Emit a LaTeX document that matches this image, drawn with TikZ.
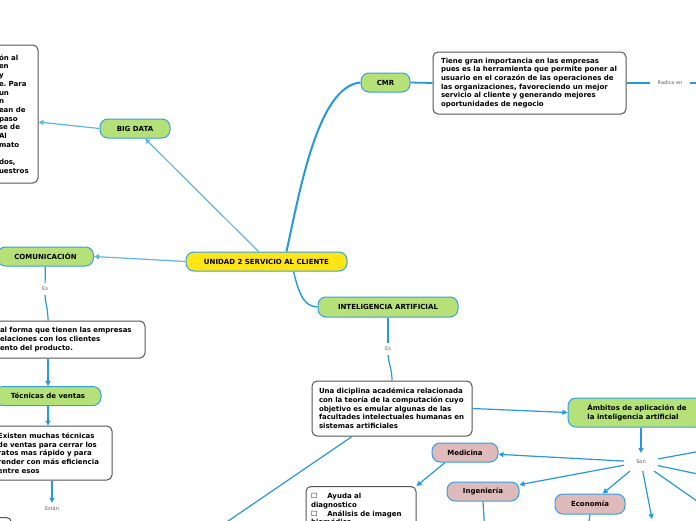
\documentclass[tikz,border=0pt]{standalone}
\usepackage{fontspec}
\setmainfont{DejaVu Sans}
\newfontfamily\symfont{DejaVu Sans}
\usepackage{tikz}
\usetikzlibrary{arrows.meta, positioning, calc}
\definecolor{linkblue}{RGB}{38,152,222}
\definecolor{lightlink}{RGB}{98,180,232}
\definecolor{topicline}{RGB}{52,160,226}
\definecolor{leafgreen}{RGB}{182,224,120}
\definecolor{rosepink}{RGB}{222,186,186}
\definecolor{rootyellow}{RGB}{255,228,24}
\definecolor{notegray}{RGB}{85,85,85}
\definecolor{labelgray}{RGB}{90,90,90}
\newcommand{\boxmark}{{\symfont\mdseries\char"2610}}
\frenchspacing

\begin{document}
\begin{tikzpicture}[x=1pt, y=-1pt,
    topic/.style={rectangle, rounded corners=8pt, draw=topicline, fill=#1, line width=1pt, minimum height=19pt, inner sep=2pt, font=\fontsize{7}{8.7}\selectfont\bfseries, align=center},
    note/.style={rectangle, rounded corners=5pt, draw=notegray, fill=white, line width=1pt, inner ysep=4pt, font=\fontsize{7}{8.7}\selectfont\bfseries, align=left},
    lbl/.style={font=\fontsize{5}{6}\selectfont, text=labelgray, inner xsep=5pt, inner ysep=4pt},
    link/.style={line width=1.2pt, draw=#1},
    link/.default=linkblue,
    arrow/.style={link=#1, -{Triangle[length=5pt, width=5pt]}},
    arrow/.default=linkblue,
]
    \useasboundingbox (0,0) rectangle (696,520);
    \clip (0,0) rectangle (696,520);

    % Central topic
    \node[topic=rootyellow, minimum width=161pt] (unidad) at (266.5,261.5) {UNIDAD 2 SERVICIO AL CLIENTE};

    % Main branches
    \node[topic=leafgreen, minimum width=70pt] (bigdata) at (135,128.5) {BIG DATA};
    \node[topic=leafgreen, minimum width=49pt] (cmr) at (385.5,82.5) {CMR};
    \node[topic=leafgreen, minimum width=96pt] (comunicacion) at (45.5,256.5) {COMUNICACIÓN};
    \node[topic=leafgreen, minimum width=140pt, minimum height=20pt] (inteligencia) at (388,307) {INTELIGENCIA ARTIFICIAL};

    % Big data and CMR notes
    \node[note, text width=34pt, inner xsep=5pt, minimum height=138pt] (bignote) at (16,114) {ón al\\en\\y\\e. Para\\un\\n\\ean de\\paso\\se de\\Al\\mato\\\mbox{}\\dos,\\uestros};
    \node[note, text width=177pt, inner xsep=8pt, minimum height=62pt] (cmrnote) at (529.5,83) {Tiene gran importancia en las empresas\\pues es la herramienta que permite poner al\\usuario en el corazón de las operaciones de\\las organizaciones, favoreciendo un mejor\\servicio al cliente y generando mejores\\oportunidades de negocio};
    \node[lbl, inner xsep=7pt] (radica) at (670,83) {Radica en};
    \coordinate (radicaend) at (720,83);

    % Comunicacion branch
    \node[lbl] (es1) at (45,289) {Es};
    \node[note, text width=136pt, inner xsep=9pt, minimum height=37pt] (comnote) at (68,339.5) {al forma que tienen las empresas\\elaciones con los clientes\\ento del producto.};
    \node[topic=leafgreen, minimum width=106pt] (tecnicas) at (48,396) {Técnicas de ventas};
    \node[note, text width=106pt, inner xsep=8pt, minimum height=54pt] (tecnote) at (51,453) {Existen muchas técnicas\\de ventas para cerrar los\\ratos mas rápido y para\\render con más eficiencia\\entre esos};
    \node[lbl] (estan) at (52,509) {Están};
    \node[note, minimum width=40pt, minimum height=30pt, anchor=north east] (estannote) at (12,517) {};

    % Inteligencia artificial branch
    \node[lbl] (es2) at (388,349) {Es};
    \node[note, text width=146pt, inner xsep=7pt, minimum height=55pt] (ianote) at (392,408.5) {Una diciplina académica relacionada\\con la teoría de la computación cuyo\\objetivo es emular algunas de las\\facultades intelectuales humanas en\\sistemas artificiales};
    \node[topic=leafgreen, minimum width=138pt, minimum height=29pt, align=left] (ambitos) at (637,412.5) {Ámbitos de aplicación de\\la inteligencia artificial};
    \node[lbl, inner xsep=12pt, inner ysep=7pt] (son) at (641,462) {Son};
    \node[topic=rosepink, minimum width=66pt] (medicina) at (465,452.5) {Medicina};
    \node[topic=rosepink, minimum width=72pt] (ingenieria) at (483,491.5) {Ingeniería};
    \node[topic=rosepink, minimum width=70pt, minimum height=20pt] (economia) at (590,504) {Economía};
    \node[note, text width=100pt, inner xsep=5pt, inner ysep=7pt, anchor=north] (ayuda) at (361,486) {\boxmark\hspace{10pt}Ayuda al\\diagnostico\\\boxmark\hspace{10pt}Análisis de imagen\\biomédica};

    % Ends outside the page
    \coordinate (iaend) at (215,530);
    \coordinate (ingend) at (485,535);
    \coordinate (ecoend) at (587,535);
    \coordinate (sonne) at (720,447.6);
    \coordinate (sone) at (720,478.7);
    \coordinate (sonse) at (720,517);
    \coordinate (sons) at (652,519);

    % Central connectors
    \draw[link, line width=2pt] ([xshift=20pt]unidad.north) .. controls (300,190) and (318,86) .. (cmr.west);
    \draw[link, line width=1.4pt] ([xshift=27pt]unidad.south) .. controls (300,298) and (305,306) .. (inteligencia.west);
    \draw[arrow=lightlink] ([xshift=-8pt]unidad.north) -- (bigdata);
    \draw[arrow=lightlink] (unidad.west) -- (comunicacion.east);

    % Big data and CMR connectors
    \draw[arrow=lightlink] (bigdata.west) -- ([yshift=-8pt]bignote.east);
    \draw[link, line width=1.8pt] (cmr.east) -- (cmrnote.west);
    \draw[link] (cmrnote.east) -- (radica);
    \draw[link] (radica) -- (radicaend);

    % Comunicacion connectors
    \draw[link] (comunicacion) -- (es1);
    \draw[link] (es1) .. controls +(0,12) and +(0,-12) .. (comnote.north -| tecnicas);
    \draw[arrow] (comnote.south -| tecnicas) -- (tecnicas.north);
    \draw[arrow] (tecnicas.south) -- (tecnicas.south |- tecnote.north);
    \draw[arrow] (tecnote.south -| estan) -- (estan);

    % Inteligencia artificial connectors
    \draw[link] (inteligencia) -- (es2);
    \draw[link] (es2) .. controls +(0,12) and +(0,-12) .. (ianote.north);
    \draw[arrow] (ianote.east) -- (ambitos.west);
    \draw[arrow] ([xshift=-40pt]ianote.south) -- (iaend);
    \draw[arrow] (ambitos.south -| son) -- (son);
    \draw[arrow] (son) -- (medicina);
    \draw[arrow] (son) -- (ingenieria);
    \draw[arrow] (son) -- (economia);
    \draw[arrow] (son) -- (sons);
    \draw[arrow] (son) -- (sonne);
    \draw[arrow] (son) -- (sone);
    \draw[arrow] (son) -- (sonse);
    \draw[arrow] ([xshift=-20pt]medicina.south) -- (ayuda.north east);
    \draw[arrow] (ingenieria.south) -- (ingend);
    \draw[arrow] (economia.south) -- (ecoend);

\end{tikzpicture}
\end{document}
